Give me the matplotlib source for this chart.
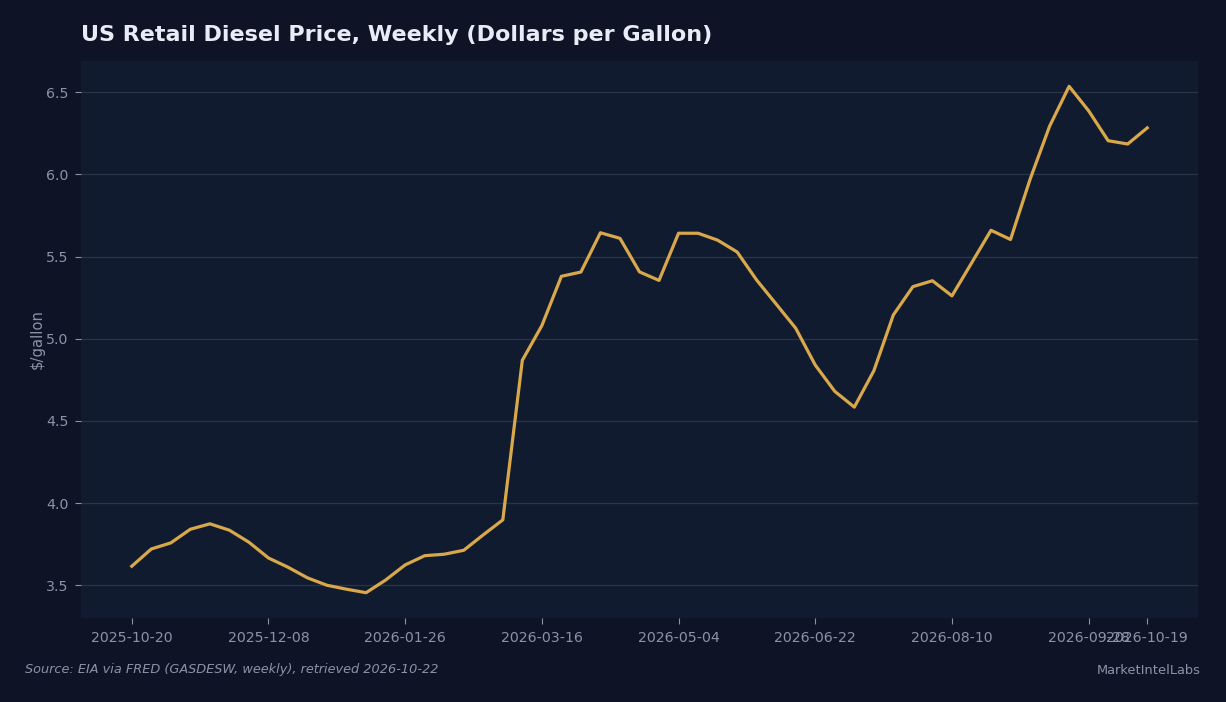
import matplotlib
matplotlib.use("Agg")
import matplotlib.pyplot as plt
import pandas as pd

start_date = "2025-10-20"
n_weeks = 53
prices = [3.616, 3.721, 3.758, 3.841, 3.874, 3.835, 3.762, 3.666, 3.61, 3.545,
          3.50, 3.476, 3.455, 3.532, 3.624, 3.68, 3.689, 3.713, 3.807, 3.898,
          4.869, 5.08, 5.38, 5.406, 5.645, 5.611, 5.407, 5.355, 5.642, 5.642,
          5.60, 5.528, 5.357, 5.211, 5.064, 4.84, 4.68, 4.584, 4.805, 5.145,
          5.317, 5.353, 5.261, 5.46, 5.66, 5.604, 5.97, 6.293, 6.536, 6.387,
          6.205, 6.185, 6.283]
ytick_vals = [3.5, 4.0, 4.5, 5.0, 5.5, 6.0, 6.5]

dates = pd.date_range(start_date, periods=n_weeks, freq="7D")
tick_idx = list(range(0, n_weeks, 7)) + [n_weeks - 1]
tick_dates = [dates[i] for i in tick_idx]
tick_labels = [d.strftime("%Y-%m-%d") for d in tick_dates]

FIG_BG = "#0e1425"
AX_BG = "#111b2f"
LINE = "#d8a84a"
GRID = "#2a3447"
TXT = "#8a93a6"

fig = plt.figure(figsize=(12.26, 7.02), dpi=100, facecolor=FIG_BG)
ax = fig.add_axes([81/1226, 1-618/702, (1198-81)/1226, (618-61)/702])
ax.set_facecolor(AX_BG)
ax.plot(dates, prices, color=LINE, linewidth=2.3)
ax.margins(x=0.05, y=0.05)
ax.set_xticks(tick_dates)
ax.set_xticklabels(tick_labels)
ax.set_yticks(ytick_vals)
ax.set_yticklabels([f"{v:.1f}" for v in ytick_vals])
ax.grid(axis="y", color=GRID, linewidth=0.9)
ax.grid(axis="x", visible=False)
ax.set_axisbelow(True)
for s in ax.spines.values():
    s.set_visible(False)
ax.tick_params(colors=TXT, labelsize=10.2, length=4, width=0.8, pad=5)
for t in ax.get_xticklabels() + ax.get_yticklabels():
    t.set_color(TXT)
ax.set_ylabel("$/gallon", color=TXT, fontsize=10.6, labelpad=1)

fig.text(81/1226, 1-35/702, "US Retail Diesel Price, Weekly (Dollars per Gallon)",
         color="#e8ecf6", fontsize=16, fontweight="bold", ha="left", va="center")
fig.text(25/1226, 1-670/702, "Source: EIA via FRED (GASDESW, weekly), retrieved 2026-10-22",
         color=TXT, fontsize=9.3, style="italic", ha="left", va="center")
fig.text(1201/1226, 1-670/702, "MarketIntelLabs", color=TXT, fontsize=9.4,
         ha="right", va="center")

fig.savefig("out.png", dpi=100, facecolor=FIG_BG)
